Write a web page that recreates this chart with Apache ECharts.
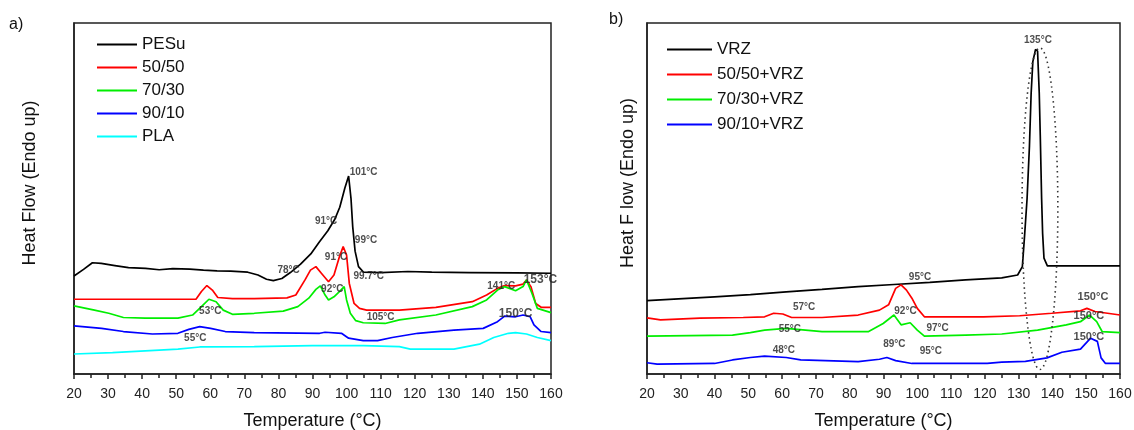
<!DOCTYPE html>
<html><head><meta charset="utf-8">
<script src="https://cdn.jsdelivr.net/npm/echarts@6/dist/echarts.min.js"></script>
<style>html,body{margin:0;padding:0;background:#fff}#c{width:1134px;height:430px}</style>
</head><body><div id="c"></div>
<script>
// ---------- data (temperature °C, heat flow in arbitrary units, endo up) ----------
const namesA = ['PESu', '50/50', '70/30', '90/10', 'PLA'];
const namesB = ['VRZ', '50/50+VRZ', '70/30+VRZ', '90/10+VRZ'];

const pesu = [[20,27.9],[22.8,29.8],[25.4,31.7],[28,31.5],[32,30.9],[36,30.3],[41,30.1],[45,29.7],[49,30.0],[54,29.9],[58,29.6],[62,29.4],[66,29.3],[71,29.0],[74,28.2],[76.5,27.0],[78.5,26.6],[81,27.2],[83.5,28.9],[86.5,31.3],[89.5,34.2],[92,37.6],[94.5,40.8],[96.5,44.0],[98,47.5],[99.5,53.0],[100.6,56.4],[101.3,50],[101.8,42],[102.5,35],[103.5,30.6],[105,29.0],[110,28.9],[118,29.2],[125,29.0],[136,28.9],[150,28.8],[160,28.7]];
const blend5050 = [[20,21.3],[40,21.3],[55.8,21.3],[57.4,23.5],[59,25.2],[60.6,23.9],[62.2,21.8],[66.5,21.5],[72.9,21.5],[82.5,21.7],[85.1,22.5],[87.8,26.8],[89.4,29.6],[91,30.6],[92.6,28.7],[94.7,26.3],[96.3,28.2],[97.9,33.4],[99,36.3],[100,33.9],[100.8,25.8],[102.2,20.1],[103.8,18.7],[105.9,18.2],[115.5,18.2],[126.2,19.0],[136.9,20.6],[141.1,22.5],[144.3,24.4],[146.4,25.2],[149.6,25.1],[151.8,25.6],[152.8,26.8],[154.1,24.9],[155.5,20.1],[157.1,19.0],[160,19.0]];
const blend7030 = [[20,19.4],[26,18.2],[30.2,17.3],[34.5,16.1],[40.9,15.9],[50.5,15.9],[54.8,16.8],[57.4,19.2],[59.6,21.3],[61.7,20.6],[63.8,18.2],[66.5,17.0],[72.9,17.3],[81.4,17.9],[85.7,19.2],[88.9,21.6],[91,24.1],[92.3,25.1],[93.7,22.5],[94.7,21.1],[96.3,22.0],[97.9,23.5],[99.3,24.9],[100,21.1],[101.1,17.3],[102.7,15.2],[104.9,14.6],[111.3,14.4],[115.5,15.4],[126.2,16.8],[136.9,19.2],[141.1,21.1],[144.3,23.9],[146.4,24.9],[149.6,23.7],[151.8,24.9],[152.8,26.8],[154.4,23.0],[156,18.7],[160,17.5]];
const blend9010 = [[20,13.7],[28.1,13.0],[34.5,12.1],[43,11.4],[50.5,11.6],[53.7,12.7],[56.9,13.5],[60.1,13.0],[64.4,12.1],[72.9,11.8],[92.1,11.6],[93.7,11.9],[98.5,11.6],[100.6,10.2],[104.9,9.5],[109.1,9.5],[113.4,10.4],[120.9,11.6],[131.5,12.5],[140.1,13.0],[144.3,14.9],[146.4,16.5],[149.6,16.3],[151.8,16.8],[153.9,16.3],[155,14.0],[157.1,12.1],[160,11.8]];
const pla = [[20,5.7],[31.3,6.1],[40.9,6.6],[50.5,7.1],[56.9,7.7],[72.9,7.8],[89.9,8.1],[104.9,8.1],[115.5,7.8],[118.7,7.1],[131.5,7.1],[139,8.5],[143.2,10.4],[147.5,11.6],[149.6,11.8],[152.8,11.4],[156,10.4],[160,9.5]];

const vrz = [[20,20.9],[29.3,21.4],[40,22.0],[50.6,22.6],[61.2,23.4],[71.8,24.1],[82.5,24.9],[93.1,25.5],[103.7,26.1],[114.3,26.8],[125,27.4],[129.7,28.2],[131.1,30.6],[131.8,40],[132.5,50],[133.2,65],[133.7,80],[134.2,89],[135,92.5],[135.6,92],[136.1,80],[136.4,68],[136.8,50],[137.1,40],[137.5,33],[138.5,30.8],[141,30.8],[160,30.8]];
const vrz5050 = [[20,16.0],[24,15.4],[35.7,15.9],[48.5,16.1],[54.8,16.3],[57.5,17.3],[60.2,17.1],[62.8,16.1],[71.8,16.1],[82.5,16.8],[88.8,18.2],[91.5,19.7],[93.6,24.4],[95.2,25.4],[96.8,23.9],[98.4,21.6],[100,18.7],[102.1,16.3],[109,16.3],[119.6,16.3],[130.3,16.6],[139.8,17.3],[148.3,18.0],[150.2,18.7],[152.6,17.8],[160,16.8]];
const vrz7030 = [[20,10.8],[45.3,11.1],[50.6,11.8],[54.8,12.5],[61.2,13.0],[71.8,12.1],[85.6,12.1],[89.9,14.4],[93.1,16.8],[95.2,14.0],[97.9,14.6],[100,12.5],[102.1,10.8],[114.3,11.1],[125,11.4],[135.6,12.5],[144.1,14.0],[148.3,14.9],[151,16.8],[153.1,14.9],[154.7,12.1],[160,11.8]];
const vrz9010 = [[20,3.2],[23,2.8],[40,3.0],[45.3,4.0],[50.6,4.7],[54.8,5.1],[61.2,4.7],[65.5,4.0],[82.5,3.5],[88.8,4.2],[91,4.7],[93.6,3.8],[98.4,3.0],[114.3,3.0],[120.7,3.0],[125,3.4],[132,3.6],[138.4,4.6],[142.8,6.2],[148.3,7.1],[151.3,10.2],[153.3,9.3],[154.4,4.6],[155.7,3.0],[160,3.0]];

// peak annotations: [temperature, heat flow, text]
const labelsA = [[105,57.6,'101°C'],[94,43.4,'91°C'],[105.7,38.0,'99°C'],[83,29.6,'78°C'],[96.9,33.4,'91°C'],[95.8,24.1,'92°C'],[106.5,27.9,'99.7°C'],[60,17.9,'53°C'],[110,16.1,'105°C'],[145.4,25.1,'141°C'],[55.6,10.2,'55°C']];
const labelsALarge = [[156.9,26.8,'153°C'],[149.6,17.1,'150°C']];
const labelsB = [[135.7,95.2,'135°C'],[100.8,27.5,'95°C'],[66.5,18.9,'57°C'],[96.5,17.8,'92°C'],[62.3,12.7,'55°C'],[106,13.0,'97°C'],[60.5,6.8,'48°C'],[93.2,8.5,'89°C'],[104,6.4,'95°C']];
const labelsBLarge = [[152,22.0,'150°C'],[150.8,16.5,'150°C'],[150.8,10.6,'150°C']];
// dotted ellipse around the VRZ melting peak: [centre T, centre HF, half-width T, half-height HF]
const ellipseB = [136.3, 47.1, 5.3, 45.8];

const xMin = 20, xMax = 160, xStep = 10;

// ---------- chart ----------
const FONT = '"Liberation Sans", Arial, sans-serif';
const colorsA = ['#000000', '#ff0000', '#00ee00', '#0000ff', '#00ffff'];
const colorsB = ['#000000', '#ff0000', '#00ee00', '#0000ff'];
const chart = echarts.init(document.getElementById('c'), null, {renderer: 'canvas'});

function xAxis(gi) {
  return {
    gridIndex: gi, type: 'value', min: xMin, max: xMax, interval: xStep,
    name: 'Temperature (°C)', nameLocation: 'middle', nameGap: 38,
    nameTextStyle: {fontSize: 18, color: '#111', fontFamily: FONT},
    axisLine: {show: true, lineStyle: {color: '#222', width: 1.5}},
    axisTick: {show: true, inside: false, length: 5, lineStyle: {color: '#222', width: 1.5}},
    minorTick: {show: true, splitNumber: 2, length: 4, lineStyle: {color: '#222', width: 1.5}},
    axisLabel: {fontSize: 14, color: '#222', margin: 13, fontFamily: FONT},
    splitLine: {show: false}
  };
}
function yAxis(gi) {
  return {
    gridIndex: gi, type: 'value', min: 0, max: 100,
    axisLine: {show: true, lineStyle: {color: '#222', width: 1.5}},
    axisTick: {show: false}, axisLabel: {show: false}, splitLine: {show: false}
  };
}
function lineSeries(name, data, color, gi) {
  return {
    type: 'line', name, data, xAxisIndex: gi, yAxisIndex: gi,
    showSymbol: false, symbol: 'none', smooth: false,
    lineStyle: {color, width: 1.7}, itemStyle: {color}, z: 3
  };
}
function labelSeries(data, gi, size) {
  return {
    type: 'scatter', data, xAxisIndex: gi, yAxisIndex: gi,
    symbolSize: 1, itemStyle: {color: 'rgba(0,0,0,0)'}, silent: true, z: 5,
    label: {show: true, position: 'inside', formatter: p => p.data[2],
      fontSize: size, fontWeight: 'bold', color: '#222', fontFamily: FONT}
  };
}

const seriesA = [pesu, blend5050, blend7030, blend9010, pla];
const seriesB = [vrz, vrz5050, vrz7030, vrz9010];

const option = {
  animation: false,
  backgroundColor: '#fff',
  grid: [
    {left: 74, top: 23, width: 477, height: 351, show: true, borderColor: '#222', borderWidth: 1.5,
     outerBoundsMode: 'none', containLabel: false},
    {left: 647, top: 23, width: 473, height: 351, show: true, borderColor: '#222', borderWidth: 1.5,
     outerBoundsMode: 'none', containLabel: false}
  ],
  xAxis: [xAxis(0), xAxis(1)],
  yAxis: [yAxis(0), yAxis(1)],
  legend: [
    {data: namesA, left: 92, top: 31, orient: 'vertical', icon: 'rect', itemWidth: 40, itemHeight: 2,
     itemGap: 6, selectedMode: false, textStyle: {fontSize: 17, color: '#111', fontFamily: FONT}},
    {data: namesB, left: 662, top: 36, orient: 'vertical', icon: 'rect', itemWidth: 45, itemHeight: 2,
     itemGap: 8, selectedMode: false, textStyle: {fontSize: 17, color: '#111', fontFamily: FONT}}
  ],
  series: [
    ...seriesA.map((d, i) => lineSeries(namesA[i], d, colorsA[i], 0)),
    ...seriesB.map((d, i) => lineSeries(namesB[i], d, colorsB[i], 1)),
    labelSeries(labelsA, 0, 10), labelSeries(labelsALarge, 0, 12),
    labelSeries(labelsB, 1, 10), labelSeries(labelsBLarge, 1, 11)
  ]
};
chart.setOption(option);

// titles, panel letters and the dotted ellipse (placed through the axis scales)
const c0 = chart.convertToPixel({gridIndex: 1}, [ellipseB[0], ellipseB[1]]);
const cx1 = chart.convertToPixel({gridIndex: 1}, [ellipseB[0] + ellipseB[2], ellipseB[1]]);
const cy1 = chart.convertToPixel({gridIndex: 1}, [ellipseB[0], ellipseB[1] + ellipseB[3]]);
chart.setOption({
  graphic: [
    {type: 'text', left: 9, top: 17, style: {text: 'a)', fontSize: 16, fill: '#111', fontFamily: FONT}},
    {type: 'text', left: 609, top: 12, style: {text: 'b)', fontSize: 16, fill: '#111', fontFamily: FONT}},
    {type: 'text', x: 30, y: 183, rotation: Math.PI / 2,
     style: {text: 'Heat Flow (Endo up)', fontSize: 18, fill: '#111', fontFamily: FONT, align: 'center', verticalAlign: 'middle'}},
    {type: 'text', x: 628, y: 183, rotation: Math.PI / 2,
     style: {text: 'Heat F low (Endo up)', fontSize: 18, fill: '#111', fontFamily: FONT, align: 'center', verticalAlign: 'middle'}},
    {type: 'ellipse', shape: {cx: c0[0], cy: c0[1], rx: Math.abs(cx1[0] - c0[0]), ry: Math.abs(c0[1] - cy1[1])},
     style: {fill: 'none', stroke: '#333', lineWidth: 1.6, lineDash: [1.5, 3.5]}, z: 10}
  ]
});
</script></body></html>
